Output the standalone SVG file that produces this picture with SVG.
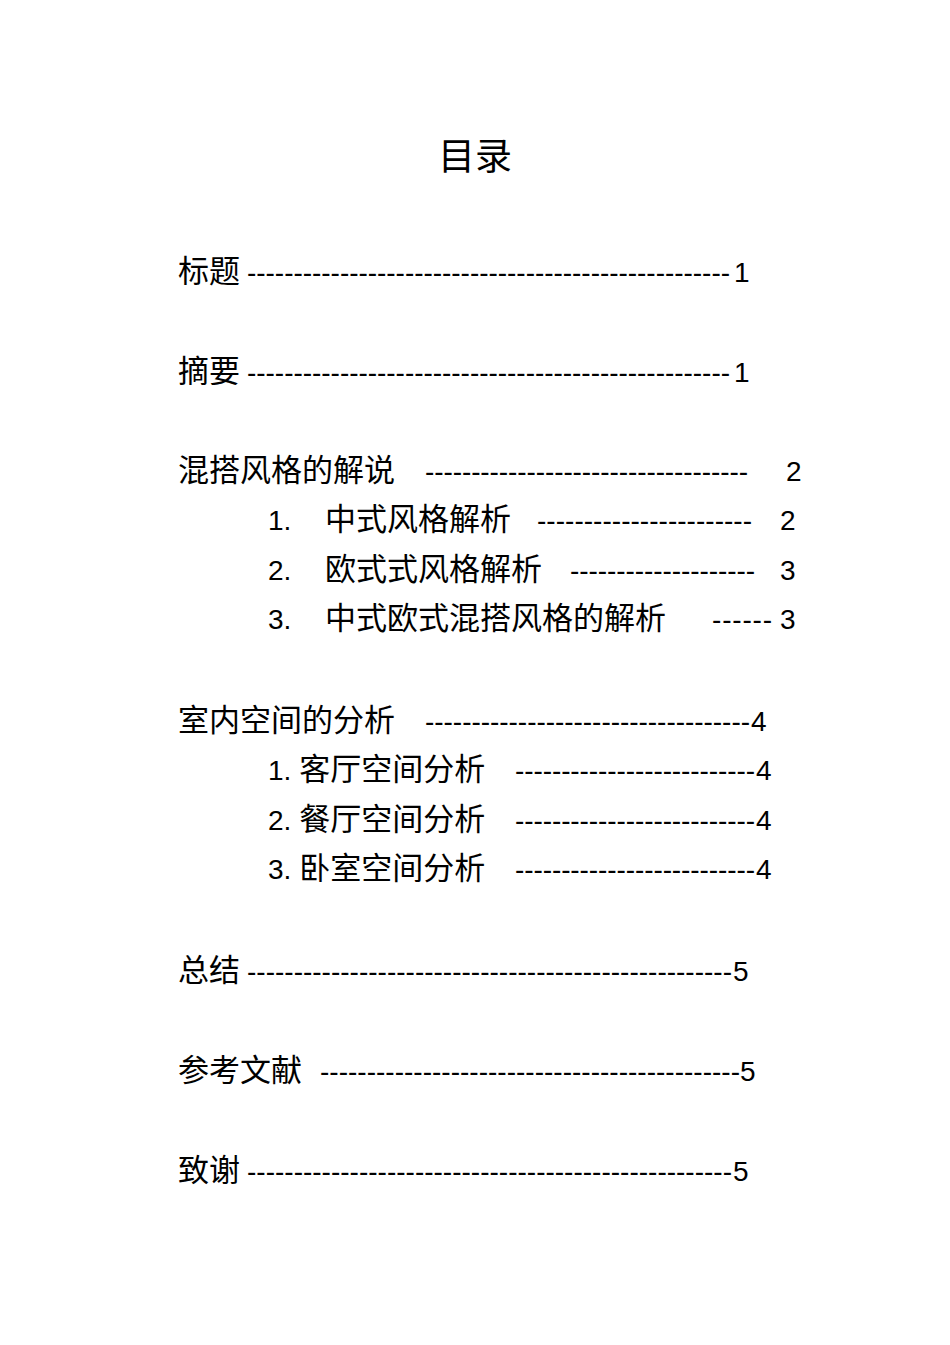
<svg xmlns="http://www.w3.org/2000/svg" width="950" height="1345" viewBox="0 0 950 1345">
<style>
text{font-family:"Liberation Sans","Noto Sans CJK SC",sans-serif;font-size:31px;fill:#000}
.t{font-size:37px}
.d{font-size:28px}
</style>
<rect width="950" height="1345" fill="#fff"/>
<text class="t" x="475" y="170" text-anchor="middle">目录</text>
<g id="toc">
<text x="178" y="282">标题</text><text class="d" x="247" y="282" textLength="483" lengthAdjust="spacing">----------------------------------------------------</text><text class="d" x="734" y="282">1</text>
<text x="178" y="382">摘要</text><text class="d" x="247" y="382" textLength="483" lengthAdjust="spacing">----------------------------------------------------</text><text class="d" x="734" y="382">1</text>
<text x="178" y="481">混搭风格的解说</text><text class="d" x="425" y="481" textLength="323" lengthAdjust="spacing">-----------------------------------</text><text class="d" x="786" y="481">2</text>
<text class="d" x="268" y="530">1.</text><text x="325" y="530">中式风格解析</text><text class="d" x="537" y="530" textLength="215" lengthAdjust="spacing">-----------------------</text><text class="d" x="780" y="530">2</text>
<text class="d" x="268" y="580">2.</text><text x="325" y="580">欧式式风格解析</text><text class="d" x="570" y="580" textLength="185" lengthAdjust="spacing">--------------------</text><text class="d" x="780" y="580">3</text>
<text class="d" x="268" y="629">3.</text><text x="325" y="629">中式欧式混搭风格的解析</text><text class="d" x="712" y="629" textLength="60" lengthAdjust="spacing">------</text><text class="d" x="780" y="629">3</text>
<text x="178" y="731">室内空间的分析</text><text class="d" x="425" y="731" textLength="325" lengthAdjust="spacing">-----------------------------------</text><text class="d" x="751" y="731">4</text>
<text x="268" y="780"><tspan class="d">1. </tspan>客厅空间分析</text><text class="d" x="515" y="780" textLength="240" lengthAdjust="spacing">--------------------------</text><text class="d" x="756" y="780">4</text>
<text x="268" y="830"><tspan class="d">2. </tspan>餐厅空间分析</text><text class="d" x="515" y="830" textLength="240" lengthAdjust="spacing">--------------------------</text><text class="d" x="756" y="830">4</text>
<text x="268" y="879"><tspan class="d">3. </tspan>卧室空间分析</text><text class="d" x="515" y="879" textLength="240" lengthAdjust="spacing">--------------------------</text><text class="d" x="756" y="879">4</text>
<text x="178" y="981">总结</text><text class="d" x="247" y="981" textLength="485" lengthAdjust="spacing">----------------------------------------------------</text><text class="d" x="733" y="981">5</text>
<text x="178" y="1081">参考文献</text><text class="d" x="320" y="1081" textLength="420" lengthAdjust="spacing">---------------------------------------------</text><text class="d" x="740" y="1081">5</text>
<text x="178" y="1181">致谢</text><text class="d" x="247" y="1181" textLength="485" lengthAdjust="spacing">----------------------------------------------------</text><text class="d" x="733" y="1181">5</text>
</g>
</svg>
